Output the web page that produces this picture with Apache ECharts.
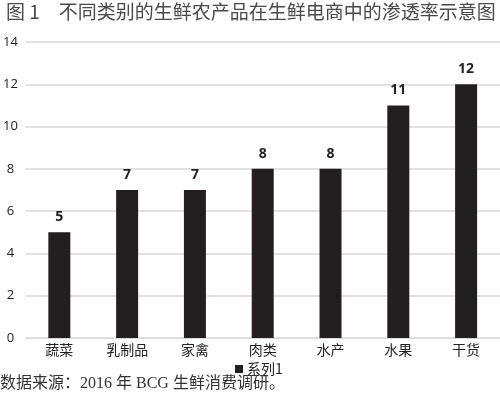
<!DOCTYPE html>
<html><head><meta charset="utf-8">
<script src="https://cdn.jsdelivr.net/npm/echarts@6/dist/echarts.min.js"></script>
<style>html,body{margin:0;padding:0;background:#fff;}#c{width:500px;height:395px;}</style>
</head><body><div id="c"></div>
<script>
const categories = ['蔬菜','乳制品','家禽','肉类','水产','水果','干货'];
const values = [5, 7, 7, 8, 8, 11, 12];
const yTicks = [0, 2, 4, 6, 8, 10, 12, 14];
const seriesName = '系列1';
const titleText = '图 1　不同类别的生鲜农产品在生鲜电商中的渗透率示意图';
const sourceText = '数据来源：2016 年 BCG 生鲜消费调研。';

const chart = echarts.init(document.getElementById('c'));
chart.setOption({
  animation: false,
  backgroundColor: '#fff',
  title: [{
    text: titleText, left: 6, top: 2, padding: 0,
    textStyle: {fontFamily: 'Noto Sans CJK SC', fontSize: 19, fontWeight: 'normal', color: '#4a4a4a'}
  }, {
    text: sourceText, left: 0, top: 376, padding: 0,
    textStyle: {fontFamily: 'Liberation Serif, Noto Sans CJK SC', fontSize: 16, fontWeight: 'normal', color: '#333'}
  }],
  legend: {
    data: [seriesName], left: 235, top: 362, padding: 0, itemWidth: 8, itemHeight: 8, itemGap: 4,
    icon: 'rect',
    textStyle: {fontFamily: 'Noto Sans CJK SC', fontSize: 14, color: '#222', padding: [0,0,0,-1]}
  },
  grid: {left: 22, right: -9, top: 42, bottom: 57, containLabel: false},
  xAxis: {
    type: 'category', data: categories,
    axisLine: {show: true, lineStyle: {color: '#d9d9d9'}},
    axisTick: {show: false},
    axisLabel: {fontFamily: 'Noto Sans CJK SC', fontSize: 14, color: '#222', margin: 5}
  },
  yAxis: {
    type: 'value', min: yTicks[0], max: yTicks[yTicks.length-1], interval: 2,
    axisLine: {show: false}, axisTick: {show: false},
    axisLabel: {fontFamily: 'Open Sans', fontSize: 13, color: '#222', margin: 15, align: 'center'},
    splitLine: {lineStyle: {color: '#d9d9d9', width: 1.5}}
  },
  series: [{
    name: seriesName, type: 'bar', data: values, barWidth: 22,
    itemStyle: {color: '#231f20'},
    label: {show: true, position: 'top', distance: 8, fontFamily: 'Open Sans', fontSize: 14, fontWeight: 'bold', color: '#222'}
  }]
});
</script></body></html>
